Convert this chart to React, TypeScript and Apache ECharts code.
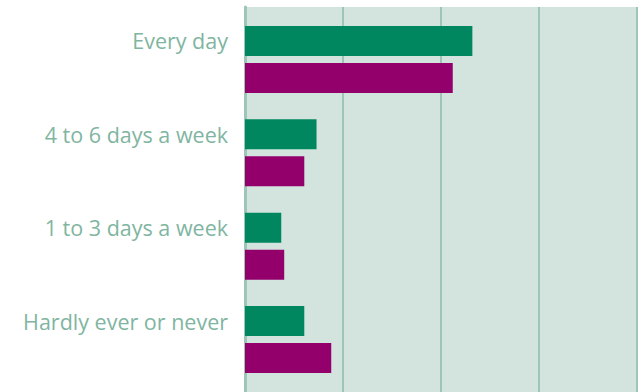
import React, { useEffect, useRef } from "react";
import * as echarts from "echarts";

const categories = ["Every day", "4 to 6 days a week", "1 to 3 days a week", "Hardly ever or never"];
const greenValues = [23.2, 7.3, 3.7, 6.05];
const purpleValues = [21.2, 6.05, 4.0, 8.8];
const axisMax = 40;
const axisInterval = 10;

export default function App() {
  const ref = useRef<HTMLDivElement>(null);
  useEffect(() => {
    if (!ref.current) return;
    const chart = echarts.init(ref.current, null, { renderer: "svg" });
    chart.setOption({
      animation: false,
      grid: [
        { left: 245, right: 6, top: 7, bottom: 0, show: true, backgroundColor: "#d2e4dd", borderWidth: 0 },
        { left: 245, right: 6, top: 12.8, bottom: 5.8 },
      ],
      xAxis: [
        {
          gridIndex: 0, type: "value", min: 0, max: axisMax, interval: axisInterval,
          axisLabel: { show: false }, axisLine: { show: false }, axisTick: { show: false },
          splitLine: { show: true, lineStyle: { color: "#9dc6b6", width: 2 } },
        },
        {
          gridIndex: 1, type: "value", min: 0, max: axisMax, interval: axisInterval,
          axisLabel: { show: false }, axisLine: { show: false }, axisTick: { show: false },
          splitLine: { show: false },
        },
      ],
      yAxis: [
        {
          gridIndex: 0, type: "category", data: categories, inverse: true,
          axisLabel: { show: false }, axisTick: { show: false },
          axisLine: { show: true, lineStyle: { color: "#9dc6b6", width: 3 } },
        },
        {
          gridIndex: 1, type: "category", data: categories, inverse: true,
          axisTick: { show: false }, axisLine: { show: false },
          axisLabel: {
            show: true, color: "#7fb5a1", fontSize: 21.5, fontFamily: "Open Sans",
            margin: 17, verticalAlign: "bottom", lineHeight: 37,
          },
        },
      ],
      series: [
        {
          type: "bar", xAxisIndex: 1, yAxisIndex: 1, data: greenValues,
          barWidth: 30, barGap: "23.3%", itemStyle: { color: "#00875f" },
        },
        {
          type: "bar", xAxisIndex: 1, yAxisIndex: 1, data: purpleValues,
          barWidth: 30, barGap: "23.3%", itemStyle: { color: "#93006c" },
        },
      ],
    });
    return () => chart.dispose();
  }, []);
  return <div ref={ref} style={{ width: 643, height: 392, position: "absolute", left: 0, top: 0 }} />;
}
